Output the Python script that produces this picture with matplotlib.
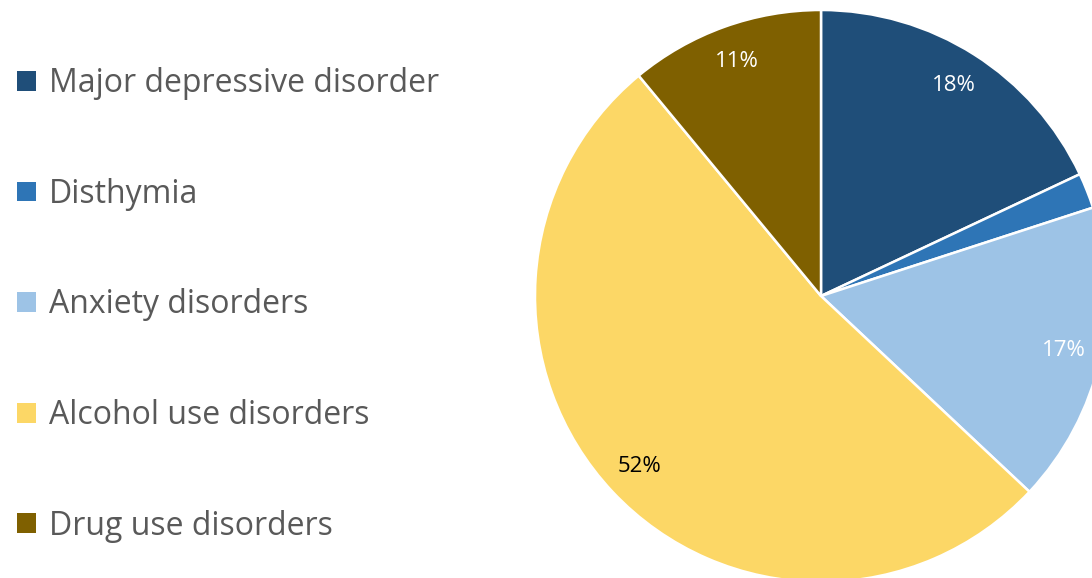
import matplotlib.pyplot as plt
from matplotlib.patches import Patch

plt.rcParams['font.family'] = ['Open Sans', 'DejaVu Sans']

# Share of burden by disorder
categories = ['Major depressive disorder', 'Disthymia', 'Anxiety disorders',
              'Alcohol use disorders', 'Drug use disorders']
shares = [18, 2, 17, 52, 11]
colors = ['#1F4E79', '#2E75B6', '#9DC3E6', '#FCD766', '#7F6000']
label_colors = ['white', 'white', 'white', 'black', 'white']

W, H = 1092, 578
fig = plt.figure(figsize=(W / 100, H / 100), dpi=100)
ax = fig.add_axes([0, 0, 1, 1])

# pie centre and radius in pixels
cx, cy, r = 821, 282, 286
ax.set_xlim(-cx / r, (W - cx) / r)
ax.set_ylim(-cy / r, (H - cy) / r)


def pct_label(p):
    return f'{p:.0f}%' if p >= 5 else ''


wedges, texts, autotexts = ax.pie(
    shares, colors=colors, startangle=90, counterclock=False,
    radius=1, center=(0, 0), autopct=pct_label, pctdistance=0.87,
    wedgeprops=dict(edgecolor='white', linewidth=1.8),
    textprops=dict(fontsize=16), frame=True)
for t, c in zip(autotexts, label_colors):
    t.set_color(c)

ax.set_aspect('auto')
ax.axis('off')

handles = [Patch(facecolor=c, edgecolor='none') for c in colors]
leg = fig.legend(handles, categories, loc='upper left',
                 bbox_to_anchor=(0.004, 0.906), frameon=False,
                 fontsize=23, labelcolor='#595959',
                 handlelength=0.58, handleheight=0.58, handletextpad=0.42,
                 labelspacing=2.43, borderaxespad=0)

fig.savefig('out.png', dpi=100)
